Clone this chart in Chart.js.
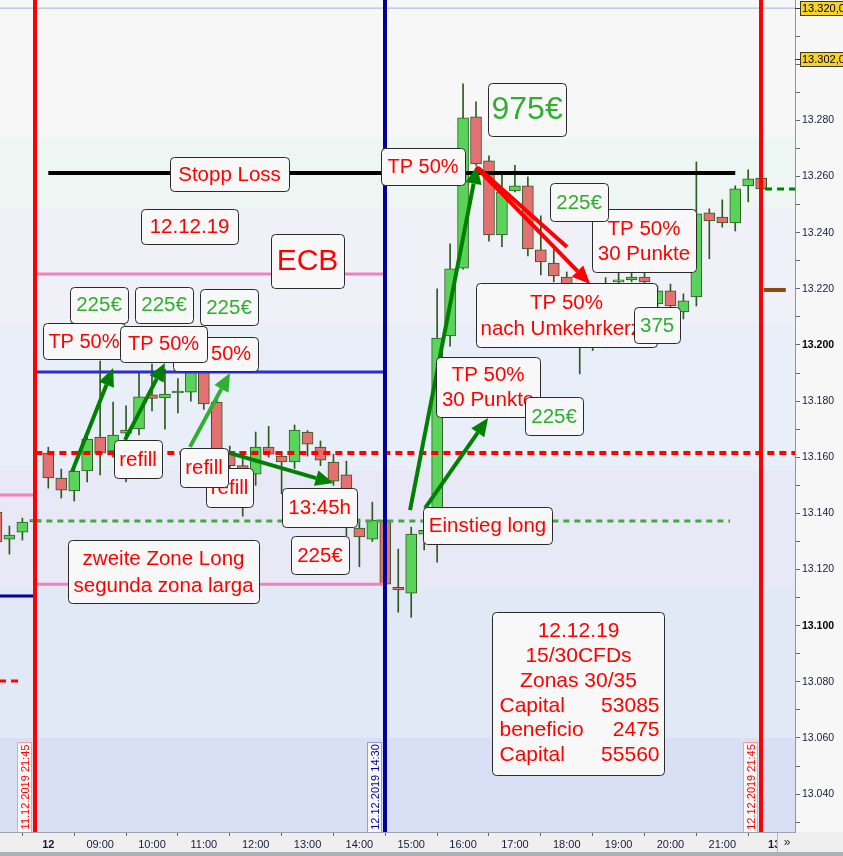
<!DOCTYPE html>
<html>
<head>
<meta charset="utf-8">
<script src="https://cdn.jsdelivr.net/npm/chart.js@4.4.1/dist/chart.umd.min.js"></script>
<style>
  html, body { margin: 0; padding: 0; background: #f7f7f7; }
  #wrap { width: 843px; height: 856px; position: relative; }
</style>
</head>
<body>
<div id="wrap"><canvas id="myChart"></canvas></div>
<script>
'use strict'

// 15 min candles, slot 0 = 12.12.2019 08:00 (negative = 11.12 evening)
const slots = [-4,-3,-2,-1,0,1,2,3,4,5,6,7,8,9,10,11,12,13,14,15,16,17,18,19,20,21,22,23,24,25,26,27,28,29,30,31,32,33,34,35,36,37,38,39,40,41,42,43,44,45,46,47,48,49,50,51,52,53,54,55];
const opens = [13140.5,13130.8,13133.3,13137.0,13161.5,13152.6,13148.0,13155.1,13167.2,13162.2,13168.6,13170.1,13182.2,13181.1,13182.9,13183.2,13190.7,13179.7,13162.0,13157.0,13154.0,13163.6,13160.4,13158.3,13169.0,13163.6,13158.3,13153.7,13134.8,13130.8,13137.6,13113.7,13111.6,13132.6,13134.0,13203.2,13227.4,13281.3,13265.6,13239.2,13254.9,13256.7,13233.9,13229.2,13224.2,13215.0,13200.0,13201.0,13222.5,13223.2,13224.2,13214.6,13219.3,13211.8,13217.1,13247.1,13245.6,13243.5,13256.7,13259.5];
const highs = [13142.0,13135.5,13138.3,13138.5,13163.6,13155.8,13156.9,13167.5,13194.3,13179.7,13178.3,13190.4,13193.2,13191.4,13188.0,13193.0,13193.0,13181.0,13164.0,13160.0,13169.0,13171.0,13162.0,13171.5,13169.5,13165.8,13161.0,13158.6,13138.0,13144.0,13138.0,13127.3,13135.1,13136.0,13220.0,13236.0,13293.0,13286.6,13267.4,13261.0,13264.0,13259.9,13246.0,13234.0,13226.0,13218.0,13210.0,13224.0,13226.0,13226.0,13226.0,13221.0,13221.7,13218.2,13265.2,13248.5,13251.7,13256.7,13262.4,13260.0];
const lows = [13127.0,13125.5,13130.5,13136.0,13149.0,13145.5,13144.4,13151.2,13153.7,13160.0,13151.2,13168.0,13176.5,13170.0,13175.8,13180.0,13177.0,13158.0,13152.0,13139.0,13150.0,13160.0,13147.0,13156.0,13160.4,13157.0,13150.0,13132.0,13121.0,13130.0,13114.5,13104.8,13103.0,13127.0,13122.6,13199.6,13227.0,13264.0,13237.0,13235.0,13254.5,13231.7,13225.0,13222.5,13210.0,13189.7,13198.0,13199.0,13220.0,13222.5,13221.5,13212.0,13211.0,13209.3,13213.9,13230.7,13242.0,13240.6,13251.0,13255.0];
const closes = [13129.8,13132.3,13136.9,13137.8,13152.6,13148.3,13155.1,13166.5,13161.5,13167.9,13169.7,13181.5,13181.0,13182.5,13183.6,13190.4,13179.0,13161.9,13157.0,13153.0,13163.6,13161.1,13158.3,13169.7,13164.7,13159.0,13151.5,13138.0,13131.6,13137.6,13114.8,13112.7,13132.6,13134.0,13202.5,13227.1,13280.9,13264.5,13239.2,13254.5,13256.7,13234.2,13229.6,13224.6,13215.0,13205.0,13201.0,13222.0,13223.2,13224.2,13222.5,13219.3,13213.9,13215.7,13246.7,13244.2,13243.5,13255.6,13259.2,13255.6];

const xTickSlots = [0,4,8,12,16,20,24,28,32,36,40,44,48,52,56];
const xTickLabels = ['12','09:00','10:00','11:00','12:00','13:00','14:00','15:00','16:00','17:00','18:00','19:00','20:00','21:00','13'];

// price levels drawn as lines
const levelPrice = [13320, 13261.3, 13225.3, 13190.4, 13161.5, 13137.3, 13114.8, 13146.6, 13110.6, 13080.3, 13255.6, 13219.6];
const levelFrom  = [-3.8, 0, -1, -1, -1, -1, -1, -3.8, -3.8, -3.8, 55.3, 55.2];
const levelTo    = [57.7, 53, 26, 26, 57.7, 52.6, 26, -1, -1, -2.2, 57.7, 56.9];

// vertical markers
const markerSlots = [-1, 26, 55];
const markerLabels = ['11.12.2019 21:45', '12.12.2019 14:30', '12.12.2019 21:45'];

const priceBoxes = [13320, 13302];

const xMin = -3.727, xMax = 57.61;
const yMin = 13026.5, yMax = 13322.9;

const FONT = '"Liberation Sans", Arial, sans-serif';
const RED = '#ff0000', GREEN = '#2fae2f';

const levelStyle = [
  { c: '#9fb2e6', w: 1 },
  { c: '#000000', w: 4 },
  { c: '#f47fbf', w: 3 },
  { c: '#2a2ed0', w: 3 },
  { c: '#ff0000', w: 4, d: [7, 5] },
  { c: '#3aae3a', w: 3, d: [6, 5] },
  { c: '#f47fbf', w: 3 },
  { c: '#f47fbf', w: 3 },
  { c: '#00009a', w: 3 },
  { c: '#ff0000', w: 3, d: [7, 5] },
  { c: '#008000', w: 3, d: [7, 5] },
  { c: '#8b4a10', w: 4 }
];
const markerColors = ['#ff0000', '#00009a', '#ff0000'];

// arrows: tail slot/price -> head slot/price
const arrows = [
  { a: [1.83, 13154.8], b: [5.0, 13191.8], c: '#008000', head: true },
  { a: [5.92, 13166.2], b: [9.0, 13193.6], c: '#008000', head: true },
  { a: [10.93, 13163.7], b: [14.02, 13190.0], c: '#30b030', head: true },
  { a: [14.02, 13161.5], b: [22.0, 13150.8], c: '#008000', head: true },
  { a: [27.91, 13141.2], b: [33.08, 13263.8], c: '#008000', head: true },
  { a: [29.07, 13141.9], b: [33.93, 13174.0], c: '#008000', head: true },
  { a: [33.16, 13263.1], b: [40.02, 13234.9], c: '#ff0000', head: false },
  { a: [33.0, 13263.4], b: [41.8, 13221.7], c: '#ff0000', head: true }
];

// note boxes, in drawing order
const F = 20.5;
const notes = [
  { t: 'Stopp Loss', s: 13.98, p: 13260.9, w: 119, h: 34, c: RED, f: F },
  { t: '12.12.19', s: 10.90, p: 13242.2, w: 97, h: 35, c: RED, f: F },
  { t: 'ECB', s: 20.0, p: 13229.9, w: 73, h: 54, c: RED, f: 30 },
  { t: '225€', s: 3.91, p: 13214.3, w: 58, h: 36, c: GREEN, f: F },
  { t: '225€', s: 8.93, p: 13214.3, w: 58, h: 36, c: GREEN, f: F },
  { t: '225€', s: 13.94, p: 13213.5, w: 58, h: 36, c: GREEN, f: F },
  { t: 'TP 50%', s: 2.75, p: 13201.4, w: 82, h: 36, c: RED, f: 20 },
  { t: 'TP 50%', s: 12.90, p: 13196.8, w: 85, h: 34, c: RED, f: 20 },
  { t: 'TP 50%', s: 8.89, p: 13200.4, w: 87, h: 36, c: RED, f: 20 },
  { t: 'refill', s: 13.98, p: 13149.2, w: 47, h: 39, c: RED, f: F },
  { t: 'refill', s: 12.01, p: 13156.4, w: 48, h: 39, c: RED, f: F },
  { t: 'refill', s: 6.92, p: 13159.4, w: 48, h: 38, c: RED, f: F },
  { t: '13:45h', s: 20.93, p: 13142.1, w: 75, h: 39, c: RED, f: F },
  { t: '225€', s: 20.96, p: 13125.2, w: 58, h: 38, c: RED, f: F },
  { t: 'zweite Zone Long\nsegunda zona larga', s: 8.89, p: 13119.3, w: 191, h: 63, c: RED, f: F, lh: 27 },
  { t: 'Einstieg long', s: 33.89, p: 13135.7, w: 129, h: 37, c: RED, f: F },
  { t: 'TP 50%\n30 Punkte', s: 33.93, p: 13185.0, w: 104, h: 60, c: RED, f: F, lh: 25 },
  { t: '225€', s: 39.02, p: 13174.7, w: 58, h: 38, c: GREEN, f: F },
  { t: 'TP 50%', s: 28.91, p: 13263.6, w: 84, h: 37, c: RED, f: 20 },
  { t: '975€', s: 36.94, p: 13283.9, w: 78, h: 53, c: GREEN, f: 32 },
  { t: 'TP 50%\n30 Punkte', s: 45.96, p: 13237.2, w: 104, h: 63, c: RED, f: F, lh: 25 },
  { t: '225€', s: 40.95, p: 13250.9, w: 58, h: 38, c: GREEN, f: F },
  { t: 'TP 50%\nnach Umkehrkerze', s: 39.98, p: 13210.7, w: 181, h: 64, c: RED, f: F, lh: 26 },
  { t: '375', s: 46.97, p: 13207.1, w: 46, h: 36, c: GREEN, f: F }
];

const infoBox = { s: 40.87, p: 13075.8, w: 172, h: 163 };
const infoRows = [['12.12.19'], ['15/30CFDs'], ['Zonas 30/35'], ['Capital', '53085'], ['beneficio', '2475'], ['Capital', '55560']];

// background zones (top price, colour)
const bands = [
  [yMax, '#f7f7f8'], [13273.7, '#eef6f3'], [13249.2, '#f0f0f8'], [13207.8, '#e8eff8'],
  [13155.5, '#e8e8f6'], [13113.8, '#e1e8f6'], [13060.0, '#d9e0f5']
];

function dePrice(v) {
  const t = Math.floor(v / 1000);
  const r = Math.round(v - t * 1000);
  return t + '.' + String(r).padStart(3, '0');
}

function drawArrow(ctx, x1, y1, x2, y2, color, head) {
  const a = Math.atan2(y2 - y1, x2 - x1);
  const hl = 18, hw = 8;
  const bx = x2 - hl * Math.cos(a), by = y2 - hl * Math.sin(a);
  ctx.strokeStyle = color;
  ctx.lineWidth = 4;
  ctx.lineCap = 'butt';
  ctx.beginPath();
  ctx.moveTo(x1, y1);
  ctx.lineTo(head ? bx : x2, head ? by : y2);
  ctx.stroke();
  if (head) {
    ctx.fillStyle = color;
    ctx.beginPath();
    ctx.moveTo(x2, y2);
    ctx.lineTo(bx + hw * Math.sin(a), by - hw * Math.cos(a));
    ctx.lineTo(bx - hw * Math.sin(a), by + hw * Math.cos(a));
    ctx.closePath();
    ctx.fill();
  }
}

function boxAt(ctx, cx, cy, w, h) {
  const x = Math.round(cx - w / 2) + 0.5, y = Math.round(cy - h / 2) + 0.5;
  ctx.fillStyle = '#f8f8f8';
  ctx.strokeStyle = '#2a2a2a';
  ctx.lineWidth = 1;
  ctx.beginPath();
  ctx.roundRect(x, y, w, h, 4);
  ctx.fill();
  ctx.stroke();
  return { x, y };
}

const overlay = {
  id: 'overlay',
  beforeDraw(chart) {
    const { ctx, chartArea: ca } = chart;
    const ys = chart.scales.y;
    ctx.save();
    ctx.fillStyle = '#f7f7f7';
    ctx.fillRect(0, 0, chart.width, chart.height);
    for (let i = 0; i < bands.length; i++) {
      const top = ys.getPixelForValue(bands[i][0]);
      const bot = i + 1 < bands.length ? ys.getPixelForValue(bands[i + 1][0]) : ca.bottom;
      ctx.fillStyle = bands[i][1];
      ctx.fillRect(ca.left, Math.max(top, ca.top), ca.right - ca.left, bot - Math.max(top, ca.top));
    }
    ctx.fillStyle = '#efefef';
    ctx.fillRect(0, ca.bottom, chart.width, chart.height - ca.bottom);
    ctx.fillStyle = '#a9b1ba';
    ctx.fillRect(0, chart.height - 4, chart.width, 4);
    ctx.restore();
  },
  afterDatasetsDraw(chart) {
    const { ctx, chartArea: ca } = chart;
    const X = v => chart.scales.x.getPixelForValue(v);
    const Y = v => chart.scales.y.getPixelForValue(v);
    ctx.save();
    ctx.beginPath();
    ctx.rect(ca.left, ca.top, ca.right - ca.left, ca.bottom - ca.top);
    ctx.clip();

    // vertical markers
    markerSlots.forEach((s, i) => {
      ctx.fillStyle = markerColors[i];
      ctx.fillRect(Math.round(X(s)) - 2, ca.top, 4, ca.bottom - ca.top);
    });

    // arrows
    arrows.forEach(a => drawArrow(ctx, X(a.a[0]), Y(a.a[1]), X(a.b[0]), Y(a.b[1]), a.c, a.head));

    // note boxes
    notes.forEach(n => {
      const cx = X(n.s), cy = Y(n.p);
      boxAt(ctx, cx, cy, n.w, n.h);
      const lines = n.t.split('\n');
      const lh = n.lh || n.f * 1.3;
      ctx.fillStyle = n.c;
      ctx.font = n.f + 'px ' + FONT;
      ctx.textAlign = 'center';
      ctx.textBaseline = 'middle';
      lines.forEach((l, k) => ctx.fillText(l, cx, cy + 1 + (k - (lines.length - 1) / 2) * lh));
    });

    // info box
    const b = boxAt(ctx, X(infoBox.s), Y(infoBox.p), infoBox.w, infoBox.h);
    ctx.fillStyle = RED;
    ctx.font = '21px ' + FONT;
    ctx.textBaseline = 'middle';
    infoRows.forEach((r, k) => {
      const y = b.y + 19 + k * 24.8;
      if (r.length === 1) {
        ctx.textAlign = 'center';
        ctx.fillText(r[0], b.x + infoBox.w / 2, y);
      } else {
        ctx.textAlign = 'left';
        ctx.fillText(r[0], b.x + 7, y);
        ctx.textAlign = 'right';
        ctx.fillText(r[1], b.x + infoBox.w - 5, y);
      }
    });

    // rotated marker labels
    markerSlots.forEach((s, i) => {
      const right = Math.round(X(s)) - 3;
      const w = 15, h = 90;
      ctx.fillStyle = '#f8f8f8';
      ctx.strokeStyle = i === 1 ? '#9a9ad8' : '#ff9a9a';
      ctx.lineWidth = 1;
      ctx.fillRect(right - w, ca.bottom - h, w, h);
      ctx.strokeRect(right - w + 0.5, ca.bottom - h + 0.5, w - 1, h);
      ctx.save();
      ctx.translate(right - w / 2, ca.bottom - h / 2);
      ctx.rotate(-Math.PI / 2);
      ctx.fillStyle = markerColors[i];
      ctx.font = '11px ' + FONT;
      ctx.textAlign = 'center';
      ctx.textBaseline = 'middle';
      ctx.fillText(markerLabels[i], 0, 1);
      ctx.restore();
    });
    ctx.restore();
  },
  afterDraw(chart) {
    const { ctx, chartArea: ca } = chart;
    const Y = v => chart.scales.y.getPixelForValue(v);
    ctx.save();
    // current price boxes on the axis
    priceBoxes.forEach(p => {
      const y = Math.round(Y(p));
      ctx.fillStyle = '#f6d22a';
      ctx.strokeStyle = '#3a3a20';
      ctx.lineWidth = 1;
      ctx.fillRect(ca.right + 5, y - 7, 48, 15);
      ctx.strokeRect(ca.right + 5.5, y - 6.5, 48, 14);
      ctx.beginPath();
      ctx.moveTo(ca.right, y + 0.5);
      ctx.lineTo(ca.right + 5, y + 0.5);
      ctx.stroke();
      ctx.fillStyle = '#000';
      ctx.font = '11px ' + FONT;
      ctx.textAlign = 'left';
      ctx.textBaseline = 'middle';
      ctx.fillText(dePrice(p) + ',0', ca.right + 7, y + 1);
    });
    // scroll button
    ctx.fillStyle = '#efefef';
    ctx.fillRect(ca.right - 17, ca.bottom + 1, 17, 19);
    ctx.strokeStyle = '#b0b8c0';
    ctx.beginPath();
    ctx.moveTo(ca.right - 17.5, ca.bottom + 1);
    ctx.lineTo(ca.right - 17.5, ca.bottom + 20);
    ctx.stroke();
    ctx.fillStyle = '#333';
    ctx.font = '12px ' + FONT;
    ctx.textAlign = 'center';
    ctx.textBaseline = 'middle';
    ctx.fillText('»', ca.right - 8, ca.bottom + 11);
    ctx.restore();
  }
};

const bodyColors = slots.map((s, i) => closes[i] >= opens[i] ? '#5ad35a' : '#e37171');

const levelSets = levelPrice.map((p, i) => ({
  type: 'line',
  data: [{ x: levelFrom[i], y: p }, { x: levelTo[i], y: p }],
  borderColor: levelStyle[i].c,
  borderWidth: levelStyle[i].w,
  borderDash: levelStyle[i].d || [],
  borderCapStyle: 'butt',
  pointRadius: 0,
  fill: false,
  order: 2
}));

new Chart(document.getElementById('myChart'), {
  type: 'bar',
  data: {
    datasets: [
      {
        data: slots.map((s, i) => ({ x: s, y: [opens[i], closes[i]] })),
        backgroundColor: bodyColors,
        borderColor: '#2f5a1f',
        borderWidth: 1,
        borderSkipped: false,
        barThickness: 11,
        grouped: false,
        order: 3
      },
      {
        data: slots.map((s, i) => ({ x: s, y: [lows[i], highs[i]] })),
        backgroundColor: '#2f5a1f',
        borderWidth: 0,
        barThickness: 1,
        grouped: false,
        order: 4
      },
      ...levelSets
    ]
  },
  options: {
    responsive: true,
    maintainAspectRatio: false,
    animation: false,
    layout: { padding: 0 },
    plugins: { legend: { display: false }, tooltip: { enabled: false } },
    scales: {
      x: {
        type: 'linear',
        min: xMin,
        max: xMax,
        offset: false,
        grid: { drawOnChartArea: false, tickLength: 4, color: '#606878' },
        border: { color: '#9aa4ae' },
        afterBuildTicks: s => { s.ticks = xTickSlots.map(v => ({ value: v })); },
        afterFit: s => { s.height = 24; s.paddingLeft = 0; s.paddingRight = 0; },
        ticks: {
          autoSkip: false,
          maxRotation: 0,
          padding: 2,
          color: '#1a1a40',
          font: c => ({ family: FONT, size: 11, weight: c.tick && (c.tick.value === 0 || c.tick.value === 56) ? 'bold' : 'normal' }),
          callback: (v, i) => xTickLabels[i]
        }
      },
      y: {
        position: 'right',
        min: yMin,
        max: yMax,
        grid: { drawOnChartArea: false, tickLength: 5, color: '#606878' },
        border: { color: '#8898a8' },
        afterFit: s => { s.width = 48; s.paddingTop = 0; s.paddingBottom = 0; },
        ticks: {
          stepSize: 10,
          includeBounds: false,
          autoSkip: false,
          padding: 2,
          color: c => (c.tick && (c.tick.value === 13200 || c.tick.value === 13100)) ? '#000' : '#1a1a40',
          font: c => ({ family: FONT, size: 10.5, weight: c.tick && (c.tick.value === 13200 || c.tick.value === 13100) ? 'bold' : 'normal' }),
          callback: v => (v % 20 === 0 && v !== 13300 && v !== 13320) ? dePrice(v) : ''
        }
      }
    }
  },
  plugins: [overlay]
});
</script>
</body>
</html>
